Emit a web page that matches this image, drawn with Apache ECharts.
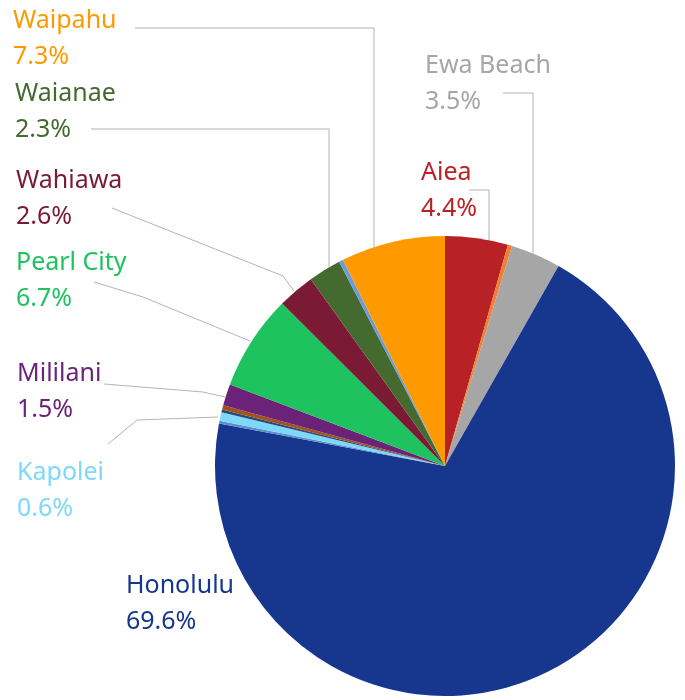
<!DOCTYPE html>
<html>
<head>
<meta charset="utf-8">
<script src="https://cdn.jsdelivr.net/npm/echarts@6/dist/echarts.min.js"></script>
<style>
  html, body { margin: 0; padding: 0; background: #fff; }
  #main { width: 685px; height: 700px; }
</style>
</head>
<body>
<div id="main"></div>
<script>
// slices in clockwise order from 12 o'clock
var towns = ['Aiea', 'Kaneohe', 'Ewa Beach', 'Honolulu', 'Kailua', 'Kapolei', 'Waimanalo', 'Haleiwa',
  'Mililani', 'Pearl City', 'Wahiawa', 'Waianae', 'Laie', 'Waipahu'];
var shares = [4.4, 0.3, 3.5, 69.6, 0.2, 0.6, 0.2, 0.3, 1.5, 6.7, 2.6, 2.3, 0.3, 7.3];
var colors = ['#b82227', '#f08030', '#a6a6a6', '#17378f', '#5b8fd0', '#7dd8fa', '#2b4a7a', '#a4521b',
  '#6a2378', '#1ec25f', '#7a1a35', '#446a30', '#6f9bd8', '#ff9900'];
// towns that get a label
var labelled = ['Aiea', 'Ewa Beach', 'Honolulu', 'Kapolei', 'Mililani', 'Pearl City', 'Wahiawa', 'Waianae', 'Waipahu'];

// label placement (left, top) and leader lines, in px
var labelPos = {
  'Waipahu':    { xy: [13, 3],    line: [[135, 28], [374, 28], [374, 266]] },
  'Waianae':    { xy: [15, 76],   line: [[91, 129], [329, 129], [329, 283]] },
  'Wahiawa':    { xy: [16, 163],  line: [[112, 208], [283, 276], [294, 291]] },
  'Pearl City': { xy: [16, 245],  line: [[94, 282], [143, 297], [250, 341]] },
  'Mililani':   { xy: [17, 356],  line: [[104, 384], [203, 392], [225, 397]] },
  'Kapolei':    { xy: [17, 455],  line: [[108, 444], [137, 420], [218, 417]] },
  'Honolulu':   { xy: [126, 568], line: null },
  'Ewa Beach':  { xy: [425, 48],  line: [[503, 93], [533, 93], [533, 255]] },
  'Aiea':       { xy: [421, 155], line: [[469, 190], [489, 190], [489, 262]] }
};

var pieData = [];
for (var i = 0; i < towns.length; i++) {
  var show = labelled.indexOf(towns[i]) >= 0;
  pieData.push({
    name: towns[i],
    value: shares[i],
    itemStyle: { color: colors[i] },
    label: { show: show, color: colors[i] },
    labelLine: { show: show && towns[i] !== 'Honolulu' }
  });
}

var chart = echarts.init(document.getElementById('main'));
chart.setOption({
  animation: false,
  series: [{
    type: 'pie',
    center: [445, 466],
    radius: 230,
    startAngle: 90,
    clockwise: true,
    avoidLabelOverlap: false,
    itemStyle: { borderWidth: 0 },
    label: {
      position: 'outside',
      fontFamily: 'Noto Sans',
      fontSize: 25,
      lineHeight: 36,
      formatter: function (p) {
        return p.name + '\n' + p.value.toFixed(1) + '%';
      }
    },
    labelLine: {
      lineStyle: { color: '#b4b4b4', width: 1 }
    },
    labelLayout: function (params) {
      var p = labelPos[towns[params.dataIndex]];
      if (!p) return {};
      var out = { x: p.xy[0], y: p.xy[1], align: 'left', verticalAlign: 'top' };
      if (p.line) out.labelLinePoints = p.line;
      return out;
    },
    data: pieData
  }]
});
</script>
</body>
</html>
